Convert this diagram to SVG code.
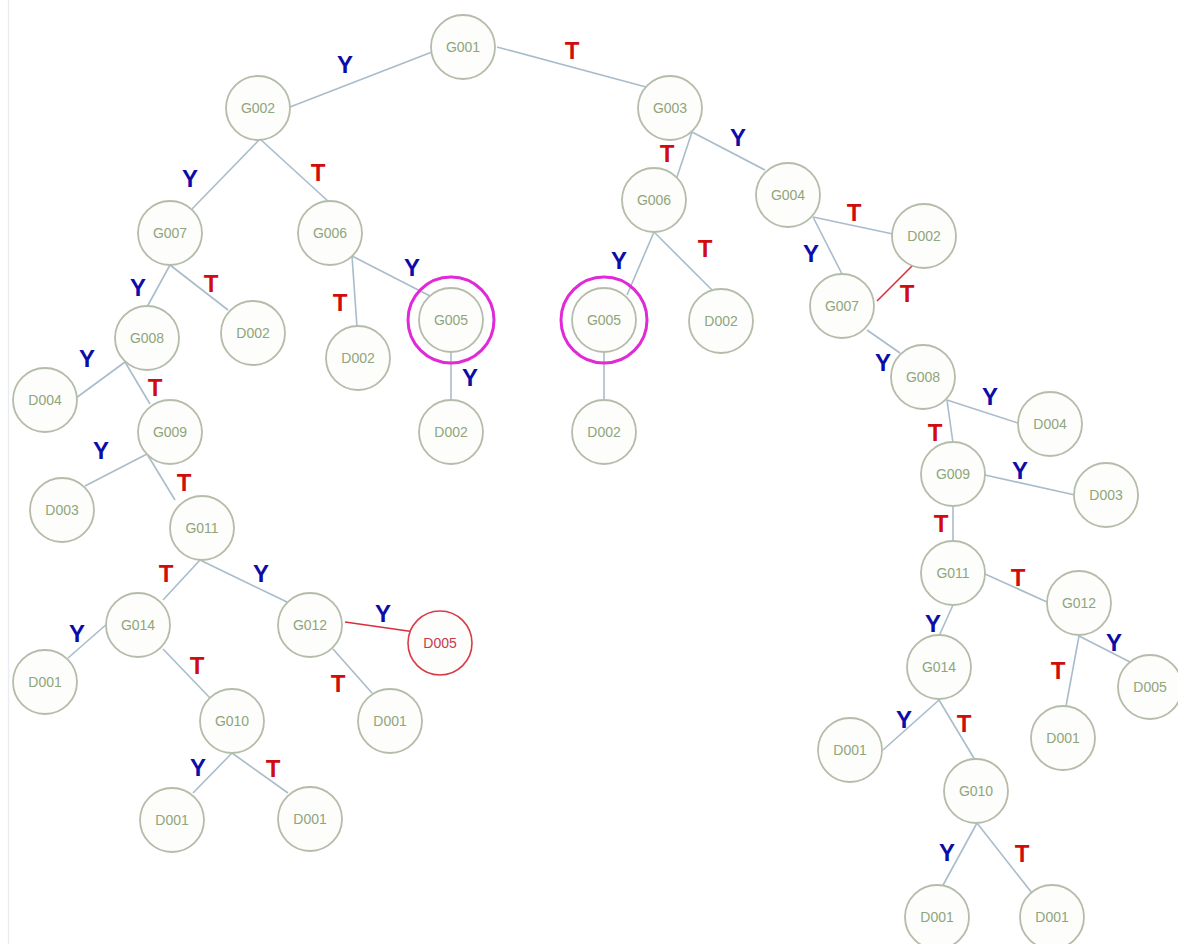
<svg xmlns="http://www.w3.org/2000/svg" width="1178" height="944" viewBox="0 0 1178 944">
<style>
.e{stroke:#a9bccb;stroke-width:1.6;fill:none}
.er{stroke:#d8303c;stroke-width:1.6;fill:none}
.n circle{fill:#fdfdfb;stroke:#b4bcaa;stroke-width:1.8}
.n text{font-family:"Liberation Sans",Arial,sans-serif;font-size:14px;fill:#8fa57c;text-anchor:middle}
.nr circle{fill:#fdfdfb;stroke:#d83a48;stroke-width:1.6}
.nr text{font-family:"Liberation Sans",Arial,sans-serif;font-size:14px;fill:#c83a48;text-anchor:middle}
.n circle.ring{fill:none;stroke:#e02ad8;stroke-width:3}
.ly{font-family:"Liberation Sans",Arial,sans-serif;font-size:24px;font-weight:bold;fill:#0c0ca8;text-anchor:middle}
.lt{font-family:"Liberation Sans",Arial,sans-serif;font-size:24px;font-weight:bold;fill:#d00c0c;text-anchor:middle}
</style>
<rect x="0" y="0" width="1178" height="944" fill="#ffffff"/>
<line x1="8.5" y1="0" x2="8.5" y2="944" stroke="#e9edf2" stroke-width="1.5"/>
<g id="connectors">
<line class="e" x1="432" y1="52" x2="290" y2="107"/>
<line class="e" x1="497" y1="47" x2="646" y2="87"/>
<line class="e" x1="260" y1="139" x2="192" y2="209"/>
<line class="e" x1="260" y1="139" x2="329" y2="202"/>
<line class="e" x1="170" y1="265" x2="147" y2="307"/>
<line class="e" x1="170" y1="265" x2="228" y2="310"/>
<line class="e" x1="352" y1="256" x2="357" y2="327"/>
<line class="e" x1="352" y1="256" x2="430" y2="296"/>
<line class="e" x1="451" y1="352" x2="451" y2="401"/>
<line class="e" x1="125" y1="362" x2="76" y2="398"/>
<line class="e" x1="125" y1="362" x2="150" y2="404"/>
<line class="e" x1="147" y1="454" x2="85" y2="486"/>
<line class="e" x1="147" y1="454" x2="175" y2="500"/>
<line class="e" x1="200" y1="560" x2="163" y2="600"/>
<line class="e" x1="200" y1="560" x2="287" y2="602"/>
<line class="e" x1="108" y1="623" x2="68" y2="658"/>
<line class="e" x1="163" y1="649" x2="210" y2="698"/>
<line class="er" x1="345" y1="622" x2="415" y2="632"/>
<line class="e" x1="333" y1="649" x2="372" y2="693"/>
<line class="e" x1="232" y1="753" x2="193" y2="793"/>
<line class="e" x1="232" y1="753" x2="288" y2="793"/>
<line class="e" x1="692" y1="132" x2="677" y2="177"/>
<line class="e" x1="692" y1="132" x2="765" y2="170"/>
<line class="e" x1="654" y1="232" x2="627" y2="295"/>
<line class="e" x1="654" y1="232" x2="712" y2="290"/>
<line class="e" x1="604" y1="352" x2="604" y2="401"/>
<line class="e" x1="813" y1="217" x2="893" y2="234"/>
<line class="e" x1="813" y1="217" x2="842" y2="274"/>
<line class="er" x1="913" y1="265" x2="877" y2="301"/>
<line class="e" x1="867" y1="330" x2="900" y2="353"/>
<line class="e" x1="947" y1="400" x2="1018" y2="423"/>
<line class="e" x1="947" y1="400" x2="953" y2="443"/>
<line class="e" x1="985" y1="475" x2="1075" y2="495"/>
<line class="e" x1="953" y1="506" x2="953" y2="541"/>
<line class="e" x1="985" y1="574" x2="1047" y2="602"/>
<line class="e" x1="953" y1="605" x2="939" y2="636"/>
<line class="e" x1="1079" y1="636" x2="1066" y2="706"/>
<line class="e" x1="1079" y1="636" x2="1130" y2="662"/>
<line class="e" x1="939" y1="700" x2="883" y2="750"/>
<line class="e" x1="939" y1="700" x2="975" y2="760"/>
<line class="e" x1="977" y1="823" x2="942" y2="887"/>
<line class="e" x1="977" y1="823" x2="1032" y2="893"/>
</g>
<g id="G001" class="n"><circle cx="463" cy="47" r="32"/><text x="463" y="52">G001</text></g>
<g id="G002" class="n"><circle cx="258" cy="108" r="32"/><text x="258" y="113">G002</text></g>
<g id="G003" class="n"><circle cx="670" cy="108" r="32"/><text x="670" y="113">G003</text></g>
<g id="G007a" class="n"><circle cx="170" cy="233" r="32"/><text x="170" y="238">G007</text></g>
<g id="G006a" class="n"><circle cx="330" cy="233" r="32"/><text x="330" y="238">G006</text></g>
<g id="D002a" class="n"><circle cx="253" cy="333" r="32"/><text x="253" y="338">D002</text></g>
<g id="G008a" class="n"><circle cx="147" cy="338" r="32"/><text x="147" y="343">G008</text></g>
<g id="D002b" class="n"><circle cx="358" cy="358" r="32"/><text x="358" y="363">D002</text></g>
<g id="G005a" class="n"><circle cx="451" cy="320" r="32"/><circle class="ring" cx="451" cy="320" r="43"/><text x="451" y="325">G005</text></g>
<g id="D004a" class="n"><circle cx="45" cy="400" r="32"/><text x="45" y="405">D004</text></g>
<g id="D002c" class="n"><circle cx="451" cy="432" r="32"/><text x="451" y="437">D002</text></g>
<g id="G009a" class="n"><circle cx="170" cy="432" r="32"/><text x="170" y="437">G009</text></g>
<g id="D003a" class="n"><circle cx="62" cy="510" r="32"/><text x="62" y="515">D003</text></g>
<g id="G011a" class="n"><circle cx="202" cy="528" r="32"/><text x="202" y="533">G011</text></g>
<g id="G014a" class="n"><circle cx="138" cy="625" r="32"/><text x="138" y="630">G014</text></g>
<g id="G012a" class="n"><circle cx="310" cy="625" r="32"/><text x="310" y="630">G012</text></g>
<g id="D005a" class="nr"><circle cx="440" cy="643" r="32"/><text x="440" y="648">D005</text></g>
<g id="D001a" class="n"><circle cx="45" cy="682" r="32"/><text x="45" y="687">D001</text></g>
<g id="D001b" class="n"><circle cx="390" cy="721" r="32"/><text x="390" y="726">D001</text></g>
<g id="G010a" class="n"><circle cx="232" cy="721" r="32"/><text x="232" y="726">G010</text></g>
<g id="D001c" class="n"><circle cx="172" cy="820" r="32"/><text x="172" y="825">D001</text></g>
<g id="D001d" class="n"><circle cx="310" cy="819" r="32"/><text x="310" y="824">D001</text></g>
<g id="G006b" class="n"><circle cx="654" cy="200" r="32"/><text x="654" y="205">G006</text></g>
<g id="G004b" class="n"><circle cx="788" cy="195" r="32"/><text x="788" y="200">G004</text></g>
<g id="D002d" class="n"><circle cx="924" cy="236" r="32"/><text x="924" y="241">D002</text></g>
<g id="G005b" class="n"><circle cx="604" cy="320" r="32"/><circle class="ring" cx="604" cy="320" r="43"/><text x="604" y="325">G005</text></g>
<g id="D002e" class="n"><circle cx="721" cy="321" r="32"/><text x="721" y="326">D002</text></g>
<g id="D002f" class="n"><circle cx="604" cy="432" r="32"/><text x="604" y="437">D002</text></g>
<g id="G007b" class="n"><circle cx="842" cy="306" r="32"/><text x="842" y="311">G007</text></g>
<g id="G008b" class="n"><circle cx="923" cy="377" r="32"/><text x="923" y="382">G008</text></g>
<g id="D004b" class="n"><circle cx="1050" cy="424" r="32"/><text x="1050" y="429">D004</text></g>
<g id="G009b" class="n"><circle cx="953" cy="474" r="32"/><text x="953" y="479">G009</text></g>
<g id="D003b" class="n"><circle cx="1106" cy="495" r="32"/><text x="1106" y="500">D003</text></g>
<g id="G011b" class="n"><circle cx="953" cy="573" r="32"/><text x="953" y="578">G011</text></g>
<g id="G012b" class="n"><circle cx="1079" cy="603" r="32"/><text x="1079" y="608">G012</text></g>
<g id="G014b" class="n"><circle cx="939" cy="667" r="32"/><text x="939" y="672">G014</text></g>
<g id="D005b" class="n"><circle cx="1150" cy="687" r="32"/><text x="1150" y="692">D005</text></g>
<g id="D001e" class="n"><circle cx="1063" cy="738" r="32"/><text x="1063" y="743">D001</text></g>
<g id="D001f" class="n"><circle cx="850" cy="750" r="32"/><text x="850" y="755">D001</text></g>
<g id="G010b" class="n"><circle cx="976" cy="791" r="32"/><text x="976" y="796">G010</text></g>
<g id="D001g" class="n"><circle cx="937" cy="917" r="32"/><text x="937" y="922">D001</text></g>
<g id="D001h" class="n"><circle cx="1052" cy="917" r="32"/><text x="1052" y="922">D001</text></g>
<g id="labels">
<text class="ly" x="345" y="73">Y</text>
<text class="lt" x="572" y="59">T</text>
<text class="ly" x="190" y="187">Y</text>
<text class="lt" x="318" y="181">T</text>
<text class="ly" x="138" y="296">Y</text>
<text class="lt" x="211" y="292">T</text>
<text class="ly" x="412" y="276">Y</text>
<text class="lt" x="340" y="311">T</text>
<text class="ly" x="470" y="386">Y</text>
<text class="ly" x="87" y="367">Y</text>
<text class="lt" x="155" y="396">T</text>
<text class="ly" x="101" y="459">Y</text>
<text class="lt" x="184" y="491">T</text>
<text class="lt" x="166" y="582">T</text>
<text class="ly" x="261" y="582">Y</text>
<text class="ly" x="77" y="642">Y</text>
<text class="lt" x="197" y="674">T</text>
<text class="ly" x="383" y="622">Y</text>
<text class="lt" x="338" y="692">T</text>
<text class="ly" x="198" y="776">Y</text>
<text class="lt" x="273" y="777">T</text>
<text class="lt" x="667" y="162">T</text>
<text class="ly" x="738" y="146">Y</text>
<text class="ly" x="619" y="269">Y</text>
<text class="lt" x="705" y="257">T</text>
<text class="lt" x="854" y="221">T</text>
<text class="ly" x="811" y="262">Y</text>
<text class="lt" x="907" y="302">T</text>
<text class="ly" x="883" y="371">Y</text>
<text class="ly" x="990" y="405">Y</text>
<text class="lt" x="935" y="441">T</text>
<text class="ly" x="1020" y="479">Y</text>
<text class="lt" x="941" y="532">T</text>
<text class="lt" x="1018" y="586">T</text>
<text class="ly" x="933" y="632">Y</text>
<text class="ly" x="1114" y="651">Y</text>
<text class="lt" x="1058" y="679">T</text>
<text class="ly" x="904" y="728">Y</text>
<text class="lt" x="964" y="732">T</text>
<text class="ly" x="947" y="861">Y</text>
<text class="lt" x="1022" y="862">T</text>
</g>
</svg>
